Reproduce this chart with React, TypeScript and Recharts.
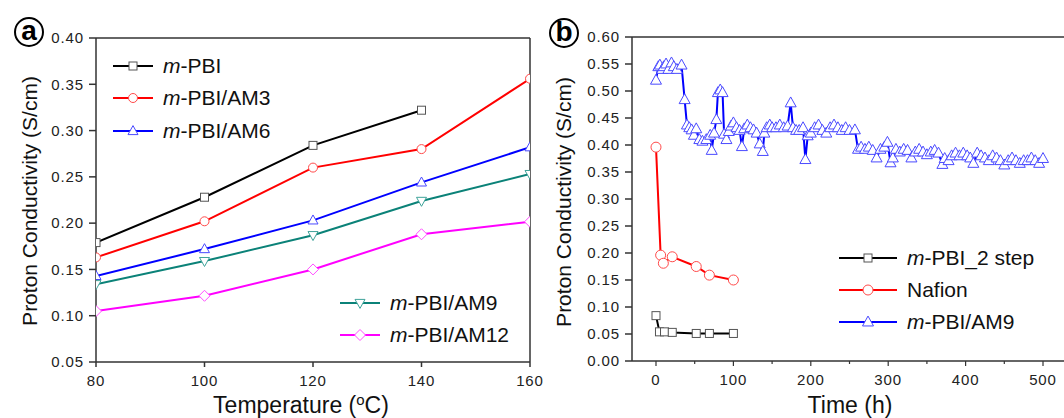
import React from 'react';
import { LineChart, Line, XAxis, YAxis, ReferenceLine } from 'recharts';

// ---------- Panel (a): conductivity vs temperature ----------
const tempC = [80, 100, 120, 140, 160];
const mPBI = [0.179, 0.228, 0.284, 0.322, null];
const mPBI_AM3 = [0.163, 0.202, 0.26, 0.28, 0.356];
const mPBI_AM6 = [0.143, 0.172, 0.203, 0.244, 0.282];
const mPBI_AM9 = [0.134, 0.159, 0.187, 0.224, 0.253];
const mPBI_AM12 = [0.105, 0.1215, 0.15, 0.188, 0.2015];
const yTicksA = [0.05, 0.1, 0.15, 0.2, 0.25, 0.3, 0.35, 0.4];
const xTicksA = [80, 100, 120, 140, 160];

// ---------- Panel (b): conductivity vs time ----------
const twoStepTime = [0, 4.5, 11, 21, 52, 69, 100];
const twoStepValue = [0.084, 0.054, 0.054, 0.053, 0.051, 0.051, 0.051];
const nafionTime = [0, 6, 9.5, 21, 52, 69, 100];
const nafionValue = [0.396, 0.196, 0.181, 0.193, 0.175, 0.159, 0.15];
const am9Time = [
  0, 3, 5, 8, 10, 13, 16, 20, 23, 27, 33, 37, 40, 43, 46, 49, 52, 56, 60, 65,
  70, 72, 75, 78, 80, 83, 86, 88, 91, 94, 97, 100, 104, 108, 111, 114, 118, 122, 126, 130,
  134, 138, 140, 143, 147, 150, 155, 160, 165, 170, 174, 177, 181, 185, 190, 193, 196, 200, 205, 210,
  215, 220, 225, 230, 235, 240, 245, 250, 257, 261, 265, 270, 275, 280, 285, 290, 295, 299, 303, 306,
  310, 315, 320, 325, 330, 335, 340, 345, 350, 355, 360, 365, 370, 373, 378, 382, 387, 392, 397, 402,
  406, 410, 415, 420, 425, 430, 435, 440, 445, 450, 455, 460, 465, 470, 475, 480, 485, 490, 495, 500,
];
const am9Value = [
  0.52, 0.545, 0.548, 0.54, 0.545, 0.55, 0.54, 0.552, 0.545, 0.54, 0.548, 0.484, 0.437, 0.432, 0.428, 0.418, 0.43, 0.41, 0.407, 0.41,
  0.418, 0.39, 0.422, 0.447, 0.497, 0.502, 0.497, 0.42, 0.41, 0.425, 0.435, 0.441, 0.432, 0.427, 0.397, 0.43, 0.437, 0.432, 0.428, 0.422,
  0.402, 0.388, 0.422, 0.432, 0.437, 0.432, 0.432, 0.437, 0.432, 0.435, 0.478, 0.432, 0.427, 0.427, 0.432, 0.373, 0.417, 0.422, 0.432, 0.437,
  0.427, 0.422, 0.432, 0.437, 0.432, 0.427, 0.432, 0.427, 0.428, 0.392, 0.396, 0.392, 0.396, 0.39, 0.376, 0.392, 0.396, 0.405, 0.367, 0.376,
  0.392, 0.387, 0.392, 0.39, 0.376, 0.387, 0.392, 0.387, 0.382, 0.387, 0.39, 0.385, 0.364, 0.375, 0.371, 0.38, 0.385, 0.38, 0.385, 0.38,
  0.376, 0.366, 0.385, 0.38, 0.376, 0.371, 0.38, 0.376, 0.371, 0.363, 0.371, 0.376, 0.371, 0.366, 0.371, 0.371, 0.376, 0.371, 0.366, 0.375,
];
const yTicksB = [0, 0.05, 0.1, 0.15, 0.2, 0.25, 0.3, 0.35, 0.4, 0.45, 0.5, 0.55, 0.6];
const xTicksB = [0, 50, 100, 150, 200, 250, 300, 350, 400, 450, 500];

// ---------- style constants ----------
const FONT = '"Liberation Sans", Arial, Helvetica, sans-serif';
const AXIS = '#333';
const TICK_TEXT = '#222';
const TICK_FS = 15;
const X_TICK_SIZE = 5;
const X_TICK_MARGIN = 8;

const dataA = tempC.map((t, i) => ({
  t,
  p: mPBI[i],
  a3: mPBI_AM3[i],
  a6: mPBI_AM6[i],
  a9: mPBI_AM9[i],
  a12: mPBI_AM12[i],
}));
const twoStepData = twoStepTime.map((t, i) => ({ t, v: twoStepValue[i] }));
const nafionData = nafionTime.map((t, i) => ({ t, v: nafionValue[i] }));
const am9Data = am9Time.map((t, i) => ({ t, v: am9Value[i] }));

type Kind = 'square' | 'circle' | 'triUp' | 'triDown' | 'diamond';

function MarkerShape({ kind, cx, cy, color, s }: { kind: Kind; cx: number; cy: number; color: string; s: number }) {
  const common = { fill: '#fff', stroke: color, strokeWidth: 1 };
  if (kind === 'square') {
    return <rect x={cx - s / 2} y={cy - s / 2} width={s} height={s} {...common} />;
  }
  if (kind === 'circle') {
    return <circle cx={cx} cy={cy} r={s / 2} {...common} />;
  }
  if (kind === 'triUp') {
    const h = s * 0.9;
    return <polygon points={`${cx},${cy - h * 0.6} ${cx - s / 2},${cy + h * 0.4} ${cx + s / 2},${cy + h * 0.4}`} {...common} />;
  }
  if (kind === 'triDown') {
    const h = s * 0.9;
    return <polygon points={`${cx},${cy + h * 0.6} ${cx - s / 2},${cy - h * 0.4} ${cx + s / 2},${cy - h * 0.4}`} {...common} />;
  }
  const d = s / 2;
  return <polygon points={`${cx},${cy - d} ${cx + d},${cy} ${cx},${cy + d} ${cx - d},${cy}`} {...common} />;
}

function makeDot(kind: Kind, color: string, s: number, id: string) {
  return (p: any) => {
    const key = `${id}-${p.index}`;
    if (typeof p.cx !== 'number' || typeof p.cy !== 'number' || !isFinite(p.cy) || p.value == null) {
      return <g key={key} />;
    }
    return (
      <g key={key}>
        <MarkerShape kind={kind} cx={p.cx} cy={p.cy} color={color} s={s} />
      </g>
    );
  };
}

const fmt2 = (v: number) => v.toFixed(2);

function TimeTick(props: any) {
  const { x, y, payload } = props;
  const axisY = y - X_TICK_SIZE - X_TICK_MARGIN;
  const major = payload.value % 100 === 0;
  return (
    <g>
      <line x1={x} x2={x} y1={axisY} y2={axisY + (major ? X_TICK_SIZE : 3)} stroke={AXIS} strokeWidth={1.2} />
      {major && (
        <text x={x} y={y} dy="0.71em" textAnchor="middle" fill={TICK_TEXT} fontSize={TICK_FS} fontFamily={FONT} letterSpacing={0.9}>
          {payload.value}
        </text>
      )}
    </g>
  );
}

function LegendRow({ left, top, lineW, kind, color, markerColor, s, children }: any) {
  const h = 22;
  return (
    <div style={{ position: 'absolute', left, top: top - h / 2, height: h, display: 'flex', alignItems: 'center', whiteSpace: 'nowrap' }}>
      <svg width={lineW} height={h} style={{ display: 'block' }}>
        <line x1={0} x2={lineW} y1={h / 2} y2={h / 2} stroke={color} strokeWidth={2} />
        <MarkerShape kind={kind} cx={lineW / 2} cy={h / 2} color={markerColor} s={s} />
      </svg>
      <span style={{ marginLeft: 10, fontSize: 21, color: '#111', fontFamily: FONT, lineHeight: '22px' }}>{children}</span>
    </div>
  );
}

const M = () => <i>m</i>;

function CircleLabel({ cx, cy, letter }: { cx: number; cy: number; letter: string }) {
  const d = 30;
  return (
    <div
      style={{
        position: 'absolute',
        left: cx - d / 2,
        top: cy - d / 2,
        width: d,
        height: d,
        boxSizing: 'border-box',
        border: '2.2px solid #000',
        borderRadius: '50%',
        display: 'flex',
        alignItems: 'center',
        justifyContent: 'center',
        fontFamily: FONT,
        fontWeight: 700,
        fontSize: 28,
        lineHeight: '28px',
        color: '#000',
        paddingBottom: 3,
      }}
    >
      {letter}
    </div>
  );
}

const tickStyle = { fill: TICK_TEXT, fontSize: TICK_FS, fontFamily: FONT, letterSpacing: 0.9 };

export default function App() {
  const cBlack = '#000000';
  const cBlackM = '#555555';
  const cRed = '#ff0000';
  const cRedM = '#ff4a4a';
  const cBlue = '#0000ff';
  const cBlueM = '#4a4aff';
  const cTeal = '#0b8278';
  const cTealM = '#3fa39a';
  const cMag = '#ff00ff';
  const cMagM = '#ff4dff';

  const titleStyle: React.CSSProperties = { position: 'absolute', whiteSpace: 'nowrap', color: '#111' };

  return (
    <div
      style={{
        position: 'absolute',
        left: 0,
        top: 0,
        width: 1064,
        height: 418,
        overflow: 'hidden',
        background: '#fff',
        fontFamily: FONT,
      }}
    >
      {/* Panel a */}
      <div style={{ position: 'absolute', left: 0, top: 0 }}>
        <LineChart width={560} height={418} data={dataA} margin={{ top: 38, right: 30, bottom: 0, left: 0 }}>
          <XAxis
            dataKey="t"
            type="number"
            domain={[80, 160]}
            ticks={xTicksA}
            allowDataOverflow
            height={56}
            stroke={AXIS}
            strokeWidth={1.5}
            tickSize={X_TICK_SIZE}
            tickMargin={X_TICK_MARGIN}
            tick={tickStyle}
          />
          <YAxis
            type="number"
            domain={[0.05, 0.4]}
            ticks={yTicksA}
            allowDataOverflow
            width={96}
            stroke={AXIS}
            strokeWidth={1.5}
            tickSize={7}
            tickMargin={5}
            tickFormatter={fmt2}
            tick={tickStyle}
          />
          <ReferenceLine y={0.4} stroke={AXIS} strokeWidth={1.5} />
          <ReferenceLine x={160} stroke={AXIS} strokeWidth={1.5} />
          <Line dataKey="p" stroke={cBlack} strokeWidth={2} isAnimationActive={false} dot={makeDot('square', cBlackM, 8, 'p')} connectNulls={false} />
          <Line dataKey="a3" stroke={cRed} strokeWidth={2} isAnimationActive={false} dot={makeDot('circle', cRedM, 9, 'a3')} />
          <Line dataKey="a6" stroke={cBlue} strokeWidth={2} isAnimationActive={false} dot={makeDot('triUp', cBlueM, 10, 'a6')} />
          <Line dataKey="a9" stroke={cTeal} strokeWidth={2} isAnimationActive={false} dot={makeDot('triDown', cTealM, 10, 'a9')} />
          <Line dataKey="a12" stroke={cMag} strokeWidth={2} isAnimationActive={false} dot={makeDot('diamond', cMagM, 11, 'a12')} />
        </LineChart>
      </div>

      {/* Panel b */}
      <div style={{ position: 'absolute', left: 530, top: 0 }}>
        <LineChart width={546} height={418} margin={{ top: 37, right: 9, bottom: 0, left: 0 }}>
          <XAxis
            dataKey="t"
            type="number"
            domain={[-31, 531]}
            ticks={xTicksB}
            allowDataOverflow
            height={57}
            stroke={AXIS}
            strokeWidth={1.5}
            tickSize={X_TICK_SIZE}
            tickMargin={X_TICK_MARGIN}
            tickLine={false}
            tick={<TimeTick />}
          />
          <YAxis
            type="number"
            domain={[0, 0.6]}
            ticks={yTicksB}
            allowDataOverflow
            width={102}
            stroke={AXIS}
            strokeWidth={1.5}
            tickSize={7}
            tickMargin={5}
            tickFormatter={fmt2}
            tick={tickStyle}
          />
          <ReferenceLine y={0.6} stroke={AXIS} strokeWidth={1.5} />
          <Line data={am9Data} dataKey="v" stroke={cBlue} strokeWidth={2} isAnimationActive={false} dot={makeDot('triUp', cBlueM, 11, 'b9')} />
          <Line data={nafionData} dataKey="v" stroke={cRed} strokeWidth={2} isAnimationActive={false} dot={makeDot('circle', cRedM, 10, 'nf')} />
          <Line data={twoStepData} dataKey="v" stroke={cBlack} strokeWidth={2} isAnimationActive={false} dot={makeDot('square', cBlackM, 8, 'ts')} />
        </LineChart>
      </div>

      {/* Circle labels */}
      <CircleLabel cx={29} cy={32} letter="a" />
      <CircleLabel cx={564} cy={33} letter="b" />

      {/* Axis titles */}
      <div style={{ ...titleStyle, left: 30, top: 201, transform: 'translate(-50%, -50%) rotate(-90deg)', fontSize: 21 }}>
        Proton Conductivity (S/cm)
      </div>
      <div style={{ ...titleStyle, left: 564, top: 202, transform: 'translate(-50%, -50%) rotate(-90deg)', fontSize: 21 }}>
        Proton Conductivity (S/cm)
      </div>
      <div style={{ ...titleStyle, left: 301, top: 405, transform: 'translate(-50%, -50%)', fontSize: 23 }}>
        Temperature (<span style={{ fontSize: 15, position: 'relative', top: -8 }}>o</span>C)
      </div>
      <div style={{ ...titleStyle, left: 850, top: 405, transform: 'translate(-50%, -50%)', fontSize: 23 }}>
        Time (h)
      </div>

      {/* Legends panel a */}
      <LegendRow left={113} top={66} lineW={40} kind="square" color={cBlack} markerColor={cBlackM} s={8}>
        <M />-PBI
      </LegendRow>
      <LegendRow left={113} top={98} lineW={40} kind="circle" color={cRed} markerColor={cRedM} s={9}>
        <M />-PBI/AM3
      </LegendRow>
      <LegendRow left={113} top={131} lineW={40} kind="triUp" color={cBlue} markerColor={cBlueM} s={10}>
        <M />-PBI/AM6
      </LegendRow>
      <LegendRow left={340} top={303} lineW={40} kind="triDown" color={cTeal} markerColor={cTealM} s={10}>
        <M />-PBI/AM9
      </LegendRow>
      <LegendRow left={340} top={335} lineW={40} kind="diamond" color={cMag} markerColor={cMagM} s={11}>
        <M />-PBI/AM12
      </LegendRow>

      {/* Legend panel b */}
      <LegendRow left={839} top={258} lineW={58} kind="square" color={cBlack} markerColor={cBlackM} s={8}>
        <M />-PBI_2 step
      </LegendRow>
      <LegendRow left={839} top={290} lineW={58} kind="circle" color={cRed} markerColor={cRedM} s={10}>
        Nafion
      </LegendRow>
      <LegendRow left={839} top={322} lineW={58} kind="triUp" color={cBlue} markerColor={cBlueM} s={11}>
        <M />-PBI/AM9
      </LegendRow>
    </div>
  );
}
